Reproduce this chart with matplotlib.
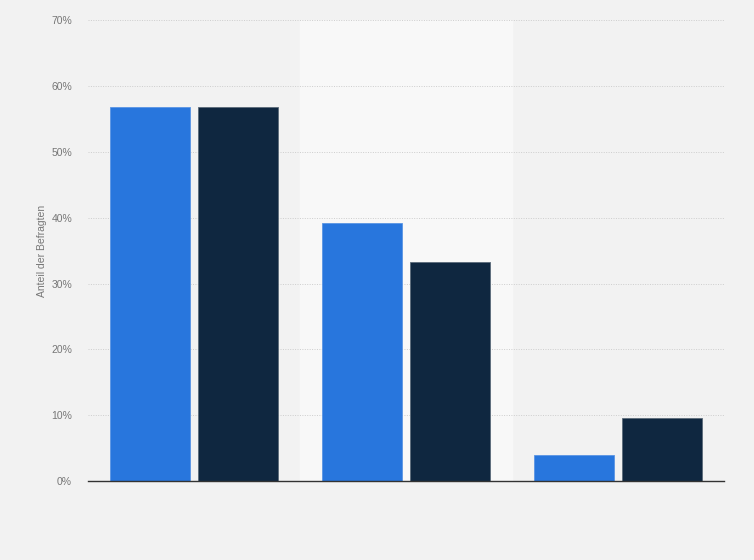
import numpy as np
import matplotlib.pyplot as plt
from matplotlib.ticker import FuncFormatter

plt.rcParams['font.family'] = ['Liberation Sans', 'DejaVu Sans']

# Werte
categories = ['A', 'B', 'C']
series_1 = [56.8, 39.2, 3.9]
series_2 = [56.8, 33.3, 9.6]
yticks = [0, 10, 20, 30, 40, 50, 60, 70]

bg = '#f2f2f2'
fig = plt.figure(figsize=(7.54, 5.6), dpi=100, facecolor=bg)
ax = fig.add_axes([0.1167, 0.141, 0.8435, 0.823])
ax.set_facecolor(bg)

x = np.arange(len(categories))
width = 0.377
offset = 0.208

# hellerer Streifen hinter der mittleren Kategorie
ax.axvspan(0.5, 1.5, color='#f8f8f8', zorder=0)

ax.bar(x - offset, series_1, width, color='#2876dd', edgecolor='#5a95e4',
       linewidth=0.6, zorder=3)
ax.bar(x + offset, series_2, width, color='#0f2740', edgecolor='#5b6b7a',
       linewidth=0.6, zorder=3)

ax.set_xlim(-0.5, 2.5)
ax.set_ylim(0, 70)
ax.set_yticks(yticks)
ax.yaxis.set_major_formatter(FuncFormatter(lambda v, p: f'{v:.0f}%'))
ax.set_xticks([])

ax.grid(axis='y', color='#cdcdcd', linestyle=(0, (1, 1.5)), linewidth=0.7, zorder=1)
ax.set_axisbelow(True)

for s in ['top', 'right', 'left']:
    ax.spines[s].set_visible(False)
ax.spines['bottom'].set_color('#333333')
ax.spines['bottom'].set_linewidth(1.0)
ax.spines['bottom'].set_zorder(4)

ax.tick_params(axis='y', length=0, labelsize=7.5, labelcolor='#777777', pad=11.5)
ax.set_ylabel('Anteil der Befragten', fontsize=7.5, color='#777777')
ax.yaxis.set_label_coords(-0.065, 0.5)

fig.savefig('out.png', dpi=100, facecolor=bg)
